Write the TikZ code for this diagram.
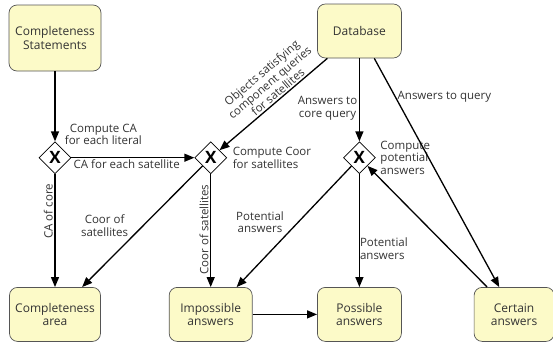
\documentclass[tikz,border=0pt]{standalone}
\usepackage{fontspec}
\setmainfont{Open Sans}
\usetikzlibrary{shapes.geometric, arrows.meta, positioning}
\definecolor{taskfill}{HTML}{FCFAC8}
\definecolor{taskdraw}{HTML}{555555}
\definecolor{textgray}{HTML}{333333}

\begin{document}
\begin{tikzpicture}[
  task/.style={rectangle, rounded corners=8pt, minimum width=84pt,
               minimum height=54pt, text centered, align=center,
               fill=taskfill, draw=taskdraw, line width=0.7pt,
               font=\fontsize{12}{13.5}\selectfont, text=textgray},
  gate/.style={diamond, draw, fill=white, minimum size=32pt, inner sep=0pt,
               line width=0.7pt, font=\fontsize{17}{17}\selectfont\bfseries},
  arr/.style={-{Triangle[length=10pt, width=8pt]}, line width=1.3pt},
  lbl/.style={font=\fontsize{11.5}{12.5}\selectfont, text=textgray, inner sep=1.5pt},
]
  \useasboundingbox (0,0) rectangle (553pt,-346pt);

  % tasks and gateways
  \node[task, minimum width=92pt, minimum height=66pt] (cs) at (55pt,-38pt) {Completeness\\Statements};
  \node[gate, below=70pt of cs]  (g1) {X};
  \node[gate, right=123pt of g1] (g2) {X};
  \node[gate, right=116pt of g2] (g3) {X};
  \node[task, above=83pt of g3] (db) {Database};
  \node[task, minimum width=91pt, below=113pt of g1] (ca) {Completeness\\area};
  \node[task, minimum width=83pt, below=113pt of g2] (ia) {Impossible\\answers};
  \node[task, below=113pt of g3] (pa) {Possible\\answers};
  \node[task, minimum width=80pt, right=72pt of pa] (certain) {Certain\\answers};

  % gateway labels
  \node[lbl, align=center, above right=3pt and 0pt of g1.north east] (l1) {Compute CA\\for each literal};
  \node[lbl, align=left, right=4pt of g2] (l2) {Compute Coor\\for satellites};
  \node[lbl, align=left, right=3pt of g3] (l3) {Compute\\potential\\answers};

  % flows
  \draw[arr] (cs) -- (g1);
  \draw[arr] (g1) -- node[lbl, below, pos=0.45] {CA for each satellite} (g2);
  \draw[arr] (g1) -- node[lbl, rotate=90, anchor=south, pos=0.33] {CA of core} (ca);
  \draw[arr] (g2) -- node[lbl, above left, pos=0.6, align=center] {Coor of\\satellites} (ca);
  \draw[arr] (g2) -- node[lbl, rotate=90, anchor=south, pos=0.49] {Coor of satellites} (ia);
  \draw[arr] (db) -- node[lbl, sloped, above, align=center, pos=0.42] {Objects satisfying\\component queries\\for satellites} (g2);
  \draw[arr] (db) -- node[lbl, left, pos=0.6, align=center] {Answers to\\core query} (g3);
  \draw[arr] (db) -- node[lbl, right, pos=0.17] {Answers to query} (certain);
  \draw[arr] (g3) -- node[lbl, above left, pos=0.57, align=center] {Potential\\answers} (ia);
  \draw[arr] (g3) -- node[lbl, right, pos=0.66, align=left, inner sep=0pt] {Potential\\answers} (pa);
  \draw[arr] (ia) -- (pa);
  \draw[arr] (certain) -- (g3);
\end{tikzpicture}
\end{document}
